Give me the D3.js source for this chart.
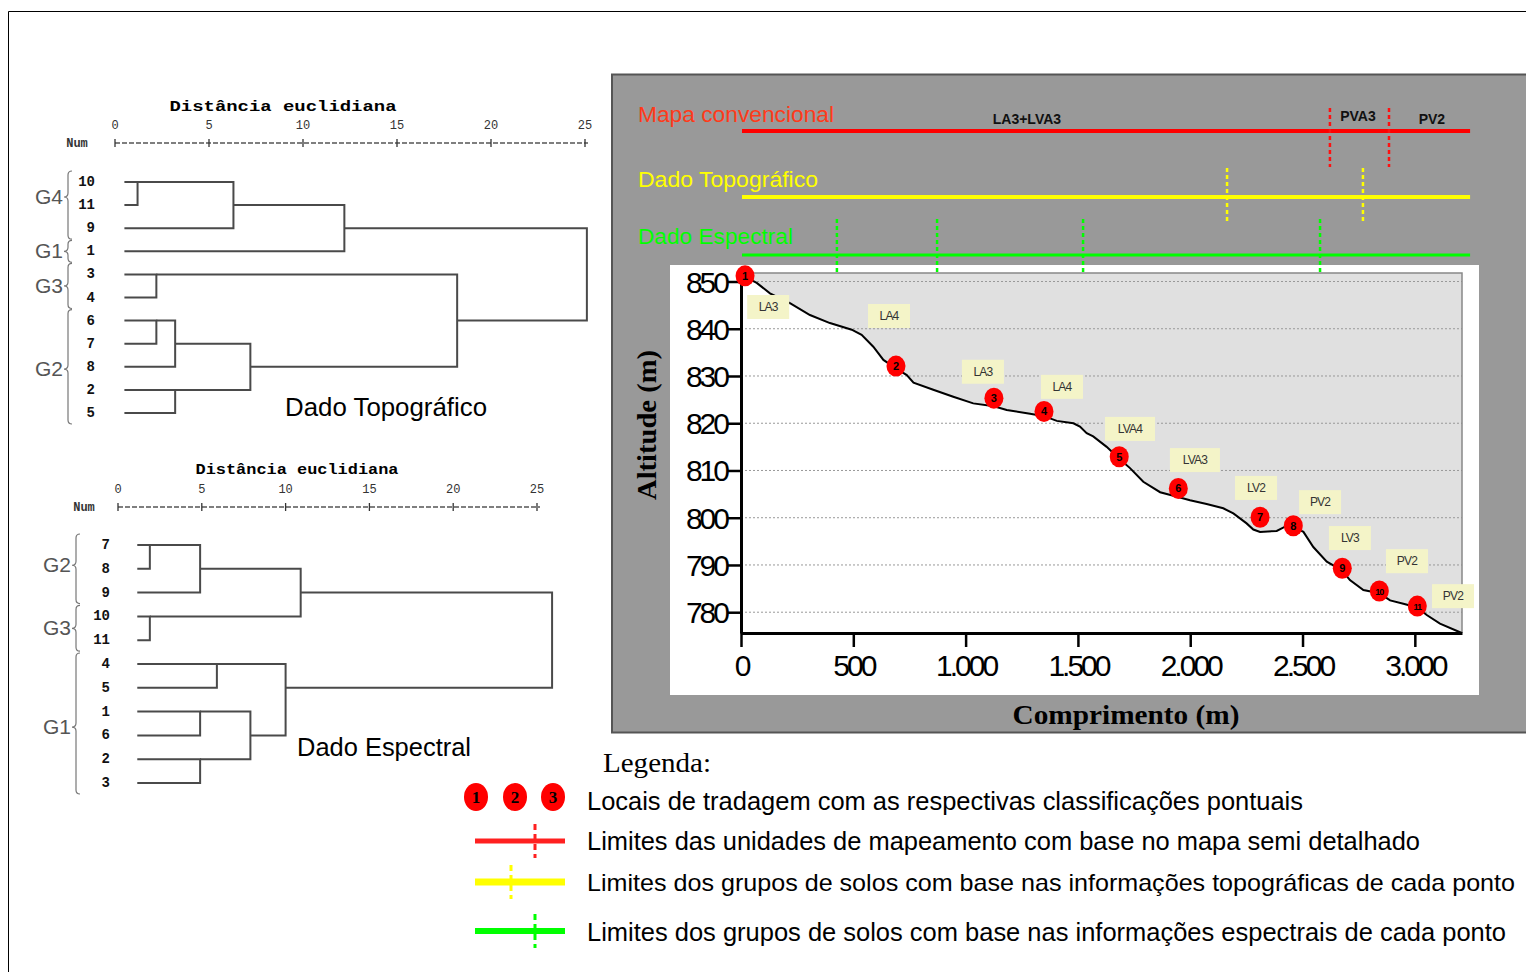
<!DOCTYPE html>
<html><head><meta charset="utf-8">
<script src="https://cdn.jsdelivr.net/npm/d3@7"></script>
<style>body{margin:0;background:#fff;overflow:hidden} svg{display:block}</style>
</head><body>
<svg id="c" width="1526" height="972"></svg>
<script>
// ---------- DATA ----------
const distTicks = [0, 5, 10, 15, 20, 25];
// Dendrogram 1 (Dado Topográfico)
const topLeaves = ["10","11","9","1","3","4","6","7","8","2","5"];
const topMerges = [["10","11",1.2],["m0","9",6.3],["m1","1",12.2],["3","4",2.2],["6","7",2.2],["m4","8",3.2],["2","5",3.2],["m5","m6",7.2],["m3","m7",18.2],["m2","m8",25.1]];
const topGroups = [["G4",0,2,0.65],["G1",3,3,3],["G3",4,5,4.5],["G2",6,10,8.1]];
// Dendrogram 2 (Dado Espectral)
const botLeaves = ["7","8","9","10","11","4","5","1","6","2","3"];
const botMerges = [["7","8",1.9],["m0","9",4.9],["10","11",1.9],["m1","m2",10.9],["4","5",5.9],["1","6",4.9],["2","3",4.9],["m5","m6",7.9],["m4","m7",10.0],["m3","m8",25.9]];
const botGroups = [["G2",0,2,0.85],["G3",3,4,3.5],["G1",5,10,7.65]];

// Elevation profile
const profDist = [0,18,70,129,218,307,396,493,537,589,634,690,738,768,856,945,1034,1126,1183,1287,1349,1406,1480,1509,1539,1568,1628,1684,1732,1791,1866,1946,1999,2073,2147,2192,2251,2281,2311,2385,2422,2459,2504,2548,2608,2677,2711,2771,2842,2890,2949,3011,3053,3112,3209];
const profAlt  = [851.4,851.0,849.7,847.5,845.4,842.9,841.2,839.8,838.7,836.2,833.4,831.6,830.2,828.6,827.1,825.6,824.2,823.6,822.8,822.0,821.5,820.5,820.0,819.3,817.9,817.2,815.0,812.5,810.5,807.6,805.4,804.4,803.7,802.9,802.0,800.9,798.8,797.5,797.0,797.2,798.1,798.0,797.0,793.8,790.7,788.8,786.8,784.7,784.0,782.5,781.8,781.0,779.4,777.6,775.6];
const pointIds   = ["1","2","3","4","5","6","7","8","9","10","11"];
const pointDist  = [18,690,1126,1349,1684,1947,2311,2459,2677,2842,3011];
const pointAlt   = [851.2,832.1,825.3,822.5,812.9,806.2,800.1,798.3,789.3,784.5,781.3];
const classNames = ["LA3","LA4","LA3","LA4","LVA4","LVA3","LV2","PV2","LV3","PV2","PV2"];
const classDist  = [121,659,1077,1429,1732,2021,2293,2578,2711,2965,3170];
const classAlt   = [844.6,842.7,830.9,827.7,818.8,812.2,806.3,803.3,795.7,790.8,783.4];
const altTicks = [780,790,800,810,820,830,840,850];
const lenTicks = [0,500,1000,1500,2000,2500,3000];

// Boundary strips
const stripNames  = ["Mapa convencional","Dado Topográfico","Dado Espectral"];
const stripColors = ["#ff3a1a","#ffff00","#00ff00"];
const redLimits    = [2622,2885];
const yellowLimits = [2164,2769];
const greenLimits  = [427,873,1523,2578];
const mapUnits     = ["LA3+LVA3","PVA3","PV2"];
const mapUnitDist  = [1273,2747,3076];

// Legend
const legendTitle = "Legenda:";
const legendTexts = ["Locais de tradagem com as respectivas classificações pontuais",
  "Limites das unidades de mapeamento com base no mapa semi detalhado",
  "Limites dos grupos de solos com base nas informações topográficas de cada ponto",
  "Limites dos grupos de solos com base nas informações espectrais de cada ponto"];
const legendDots = ["1","2","3"];

// ---------- DRAW ----------
const svg = d3.select("#c");
svg.append("rect").attr("width",1526).attr("height",972).attr("fill","#fff");
svg.append("path").attr("d","M8.5,972 V11.5 H1526").attr("fill","none").attr("stroke","#000").attr("stroke-width",1);

const mono = "'Liberation Mono','DejaVu Sans Mono',monospace";
const sans = "'Liberation Sans',Arial,sans-serif";
const narrow = "'Liberation Sans Narrow','Liberation Sans',Arial,sans-serif";
const serif = "'Liberation Serif','Times New Roman',serif";

function brace(x, y1, y2, m){
  const w=4;
  return `M${x+w},${y1} Q${x},${y1} ${x},${y1+w} V${m-w} Q${x},${m} ${x-w},${m} Q${x},${m} ${x},${m+w} V${y2-w} Q${x},${y2} ${x+w},${y2}`;
}

function dendro(cfg){
  const g = svg.append("g");
  const x = d3.scaleLinear().domain([0,25]).range(cfg.xr);
  const y = d3.scaleLinear().domain([0,cfg.leaves.length-1]).range(cfg.yr);
  g.append("text").attr("x",cfg.titleX).attr("y",cfg.titleY).attr("text-anchor","middle")
    .attr("font-family",mono).attr("font-weight","bold").attr("font-size",14)
    .attr("textLength",cfg.titleW).attr("lengthAdjust","spacingAndGlyphs").text("Distância euclidiana");
  g.selectAll(".tl").data(distTicks).join("text").attr("x",d=>x(d)).attr("y",cfg.tickY)
    .attr("text-anchor","middle").attr("font-family",mono).attr("font-size",12).attr("fill","#333").text(d=>d);
  g.append("text").attr("x",cfg.numX).attr("y",cfg.axisY+4).attr("text-anchor","middle")
    .attr("font-family",mono).attr("font-weight","bold").attr("font-size",12).attr("fill","#333").text("Num");
  g.append("line").attr("x1",x(0)).attr("x2",x(25)+3).attr("y1",cfg.axisY).attr("y2",cfg.axisY)
    .attr("stroke","#555").attr("stroke-width",1.3).attr("stroke-dasharray","5,2");
  g.selectAll(".tk").data(distTicks).join("line").attr("x1",d=>x(d)).attr("x2",d=>x(d))
    .attr("y1",cfg.axisY-4).attr("y2",cfg.axisY+4).attr("stroke","#333").attr("stroke-width",1.3);
  g.selectAll(".lf").data(cfg.leaves).join("text").attr("x",cfg.labelX).attr("y",(d,i)=>y(i)+4)
    .attr("text-anchor","end").attr("font-family",mono).attr("font-weight","bold").attr("font-size",14).attr("fill","#111").text(d=>d);
  const nodes={};
  cfg.leaves.forEach((l,i)=>nodes[l]={row:i,h:cfg.start});
  cfg.merges.forEach((m,k)=>{
    const a=nodes[m[0]], b=nodes[m[1]], h=m[2];
    g.append("path").attr("d",`M${x(a.h)},${y(a.row)} H${x(h)} V${y(b.row)} H${x(b.h)}`)
      .attr("fill","none").attr("stroke","#4a4a4a").attr("stroke-width",2);
    nodes["m"+k]={row:Math.floor((a.row+b.row)/2),h:h};
  });
  cfg.groups.forEach(gr=>{
    const y1=y(gr[1])-11, y2=y(gr[2])+11, ym=y(gr[3]);
    g.append("path").attr("d",brace(cfg.braceX,y1,y2,ym)).attr("fill","none").attr("stroke","#777").attr("stroke-width",1.2);
    g.append("text").attr("x",cfg.braceX-5).attr("y",ym+7).attr("text-anchor","end")
      .attr("font-family",narrow).attr("font-size",21).attr("fill","#555").text(gr[0]);
  });
  g.append("text").attr("x",cfg.nameX).attr("y",cfg.nameY).attr("font-family",narrow).attr("font-size",26)
    .attr("textLength",cfg.nameW).attr("lengthAdjust","spacingAndGlyphs").attr("fill","#000").text(cfg.name);
}

dendro({leaves:topLeaves,merges:topMerges,groups:topGroups,xr:[115,585],yr:[182,413],start:0.5,
  titleX:283,titleY:111,titleW:227,tickY:129,axisY:143,numX:77,labelX:95,braceX:68,
  name:"Dado Topográfico",nameX:285,nameY:416,nameW:202});
dendro({leaves:botLeaves,merges:botMerges,groups:botGroups,xr:[118,537],yr:[545,783],start:1.15,
  titleX:297,titleY:474,titleW:203,tickY:493,axisY:507,numX:84,labelX:110,braceX:76,
  name:"Dado Espectral",nameX:297,nameY:756,nameW:174});

// ---------- RIGHT PANEL ----------
const panel = svg.append("g");
panel.append("rect").attr("x",612).attr("y",74.5).attr("width",940).attr("height",658).attr("fill","#999999").attr("stroke","#555").attr("stroke-width",2);
panel.append("rect").attr("x",670).attr("y",265).attr("width",809).attr("height",430).attr("fill","#fff");

const xP = d3.scaleLinear().domain([0,3210]).range([741,1462]);
const yP = d3.scaleLinear().domain([775.6,851.8]).range([633,273]);

const stripY = [131,197,255];
const stripTextY = [122,187,244];
const stripTextW = [196,180,155];
const stripW = [4,4,3];
stripNames.forEach((n,i)=>{
  panel.append("text").attr("x",638).attr("y",stripTextY[i]).attr("font-family",narrow).attr("font-size",22)
    .attr("fill",stripColors[i]).attr("textLength",stripTextW[i]).attr("lengthAdjust","spacingAndGlyphs").text(n);
  panel.append("line").attr("x1",xP(0)+1).attr("x2",xP(3246)).attr("y1",stripY[i]).attr("y2",stripY[i])
    .attr("stroke",i===0?"#ff0000":stripColors[i]).attr("stroke-width",stripW[i]);
});
function limits(arr,color,y1,y2){
  panel.selectAll(null).data(arr).join("line").attr("x1",d=>xP(d)).attr("x2",d=>xP(d)).attr("y1",y1).attr("y2",y2)
    .attr("stroke",color).attr("stroke-width",2.5).attr("stroke-dasharray","4,3");
}
panel.selectAll(null).data(mapUnits).join("text").attr("x",(d,i)=>xP(mapUnitDist[i])).attr("y",(d,i)=>i===1?121:124)
  .attr("text-anchor","middle").attr("font-family",sans).attr("font-weight","bold").attr("font-size",14).attr("fill","#111").text(d=>d);

panel.append("rect").attr("x",xP(0)).attr("y",yP(851.8)).attr("width",xP(3210)-xP(0)).attr("height",yP(775.6)-yP(851.8)).attr("fill","#e0e0e0");
const prof = profDist.map((d,i)=>[d,profAlt[i]]);
panel.append("path").datum(prof).attr("d",d3.area().x(d=>xP(d[0])).y0(yP(775.6)).y1(d=>yP(d[1]))).attr("fill","#fff");
panel.selectAll(".grid").data(altTicks).join("line").attr("x1",xP(0)).attr("x2",xP(3210)).attr("y1",d=>yP(d)).attr("y2",d=>yP(d))
  .attr("stroke","#999").attr("stroke-width",1).attr("stroke-dasharray","2,2");
panel.append("path").attr("d",`M${xP(0)},${yP(851.8)} H${xP(3210)} V${yP(775.6)}`).attr("fill","none").attr("stroke","#888").attr("stroke-width",1.5);
panel.append("path").datum(prof).attr("d",d3.line().x(d=>xP(d[0])).y(d=>yP(d[1]))).attr("fill","none").attr("stroke","#000").attr("stroke-width",2);

limits(redLimits,"#ff1010",108,167);
limits(yellowLimits,"#ffff00",168,223);
limits(greenLimits,"#00ff00",219,273);

const yAx = panel.append("g").attr("transform",`translate(${xP(0)},0)`)
  .call(d3.axisLeft(yP).tickValues(altTicks).tickSize(13).tickSizeOuter(0).tickPadding(1));
yAx.select(".domain").attr("stroke","#000").attr("stroke-width",3);
yAx.selectAll(".tick line").attr("stroke","#000").attr("stroke-width",2.5);
yAx.selectAll(".tick text").attr("font-family",sans).attr("font-size",30).attr("letter-spacing","-3px").attr("fill","#000").attr("dy","0.35em");
const fmt = d3.formatLocale({decimal:",",thousands:".",grouping:[3],currency:["",""]}).format(",d");
const xAx = panel.append("g").attr("transform",`translate(0,${yP(775.6)})`)
  .call(d3.axisBottom(xP).tickValues(lenTicks).tickFormat(fmt).tickSize(14).tickSizeOuter(0).tickPadding(8));
xAx.select(".domain").attr("stroke","#000").attr("stroke-width",3);
xAx.selectAll(".tick line").attr("stroke","#000").attr("stroke-width",2.5);
xAx.selectAll(".tick text").attr("font-family",sans).attr("font-size",30).attr("letter-spacing","-3px").attr("fill","#000");

panel.append("text").attr("transform","translate(656,425) rotate(-90)").attr("text-anchor","middle")
  .attr("font-family",serif).attr("font-weight","bold").attr("font-size",27)
  .attr("textLength",150).attr("lengthAdjust","spacingAndGlyphs").text("Altitude (m)");
panel.append("text").attr("x",1126).attr("y",724).attr("text-anchor","middle")
  .attr("font-family",serif).attr("font-weight","bold").attr("font-size",27)
  .attr("textLength",227).attr("lengthAdjust","spacingAndGlyphs").text("Comprimento (m)");

classNames.forEach((n,i)=>{
  const w = n.length>3?50:42, cx=xP(classDist[i]), cy=yP(classAlt[i]);
  panel.append("rect").attr("x",cx-w/2).attr("y",cy-12).attr("width",w).attr("height",24).attr("fill","#f4f4c8");
  panel.append("text").attr("x",cx).attr("y",cy+4).attr("text-anchor","middle").attr("font-family",sans).attr("font-size",12)
    .attr("letter-spacing","-0.8px").attr("fill","#333").text(n);
});
pointIds.forEach((p,i)=>{
  const cx=xP(pointDist[i]), cy=yP(pointAlt[i]);
  panel.append("ellipse").attr("cx",cx).attr("cy",cy).attr("rx",9.5).attr("ry",10.5).attr("fill","#ff0000");
  panel.append("text").attr("x",cx).attr("y",cy+4).attr("text-anchor","middle").attr("font-family",sans).attr("font-weight","bold")
    .attr("font-size",p.length>1?9:11).attr("letter-spacing",p.length>1?"-1px":"0").attr("fill","#000").text(p);
});

// ---------- LEGEND ----------
const lg = svg.append("g");
lg.append("text").attr("x",603).attr("y",772).attr("font-family",serif).attr("font-size",28)
  .attr("textLength",108).attr("lengthAdjust","spacingAndGlyphs").text(legendTitle);
const dotX = [476,515,553];
legendDots.forEach((d,i)=>{
  lg.append("ellipse").attr("cx",dotX[i]).attr("cy",797).attr("rx",12).attr("ry",14).attr("fill","#ff0000");
  lg.append("text").attr("x",dotX[i]).attr("y",803).attr("text-anchor","middle").attr("font-family",serif).attr("font-weight","bold").attr("font-size",17).text(d);
});
const symY = [841,882,931], symColor=["#ff2020","#ffff00","#00ff00"], symVX=[535,511,535], symW=[5,7,6];
symY.forEach((y,i)=>{
  lg.append("line").attr("x1",475).attr("x2",565).attr("y1",y).attr("y2",y).attr("stroke",symColor[i]).attr("stroke-width",symW[i]);
  lg.append("line").attr("x1",symVX[i]).attr("x2",symVX[i]).attr("y1",y-17).attr("y2",y+17).attr("stroke",symColor[i]).attr("stroke-width",3).attr("stroke-dasharray","6,4");
});
const textY=[810,850,891,941], textW=[716,833,928,919], textSize=[26,26,24,26];
legendTexts.forEach((t,i)=>{
  lg.append("text").attr("x",587).attr("y",textY[i]).attr("font-family",narrow).attr("font-size",textSize[i])
    .attr("textLength",textW[i]).attr("lengthAdjust","spacingAndGlyphs").text(t);
});
</script></body></html>
